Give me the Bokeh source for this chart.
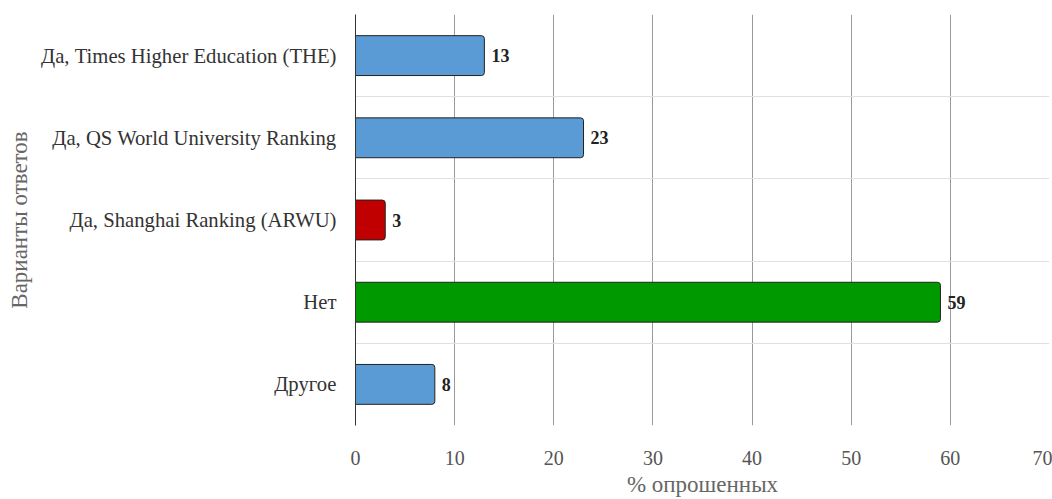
from bokeh.plotting import figure
from bokeh.models import ColumnDataSource, FixedTicker, Range1d, LabelSet
from bokeh.embed import file_html
from bokeh.resources import INLINE

categories = ["Да, Times Higher Education (THE)", "Да, QS World University Ranking",
              "Да, Shanghai Ranking (ARWU)", "Нет", "Другое"]
values = [13, 23, 3, 59, 8]
colors = ["#5b9bd5", "#5b9bd5", "#c00000", "#009900", "#5b9bd5"]
x_ticks = [0, 10, 20, 30, 40, 50, 60, 70]

n = len(categories)
ypos = [n - 0.5 - i for i in range(n)]
src = ColumnDataSource(dict(y=ypos, v=values, c=colors, lab=[str(v) for v in values]))

FONT = "Liberation Serif"
p = figure(width=1052, height=499, output_backend="svg", toolbar_location=None,
           x_range=Range1d(0, 70), y_range=Range1d(0, n),
           min_border_left=355, min_border_right=3, min_border_top=14, min_border_bottom=74)
p.outline_line_color = None

p.hbar(y="y", right="v", left=0, height=0.485, fill_color="c", line_color="#222222",
       line_width=1, border_radius=(0, 3, 3, 0), source=src)
p.add_layout(LabelSet(x="v", y="y", text="lab", source=src, x_offset=7, y_offset=0,
                      text_baseline="middle", text_font=FONT, text_font_size="18px",
                      text_font_style="bold", text_color="#222222"))

p.xaxis.ticker = FixedTicker(ticks=x_ticks)
p.xgrid.ticker = FixedTicker(ticks=x_ticks[1:])
p.xgrid.grid_line_color = "#999999"
p.xgrid.grid_line_width = 1
p.ygrid.ticker = FixedTicker(ticks=list(range(n + 1)))
p.ygrid.grid_line_color = "#e0e0e0"

p.yaxis.ticker = FixedTicker(ticks=ypos)
p.yaxis.major_label_overrides = {y: c for y, c in zip(ypos, categories)}

for ax in (p.xaxis[0], p.yaxis[0]):
    ax.major_tick_line_color = None
    ax.minor_tick_line_color = None
    ax.major_label_text_font = FONT
    ax.axis_label_text_font = FONT
    ax.axis_label_text_font_style = "normal"
    ax.axis_label_text_color = "#666666"
    ax.axis_label_text_font_size = "23px"

p.xaxis.axis_line_color = None
p.xaxis.major_label_text_font_size = "20px"
p.xaxis.major_label_text_color = "#555555"
p.xaxis.major_label_standoff = 19
p.xaxis.axis_label = "% опрошенных"
p.xaxis.axis_label_standoff = 4

p.yaxis.axis_line_color = "#333333"
p.yaxis.axis_line_width = 1
p.yaxis.major_label_text_font_size = "20.7px"
p.yaxis.major_label_text_color = "#333333"
p.yaxis.major_label_standoff = 13
p.yaxis.axis_label = "Варианты ответов"
p.yaxis.axis_label_standoff = 6

open("out.html", "w").write(file_html(p, INLINE))
